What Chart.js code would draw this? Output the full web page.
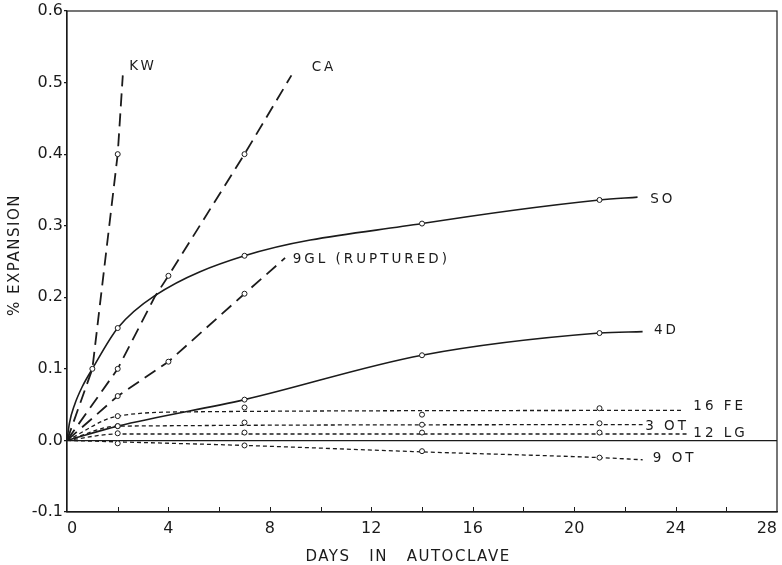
<!DOCTYPE html>
<html>
<head>
<meta charset="utf-8">
<script src="https://cdn.jsdelivr.net/npm/chart.js@4/dist/chart.umd.min.js"></script>
<style>
  html, body { margin: 0; padding: 0; background: #fff; }
  #wrap { width: 782px; height: 565px; }
</style>
</head>
<body>
<div id="wrap"><canvas id="chart" width="782" height="565"></canvas></div>
<script>
// Days the specimens were measured
const testDays = [1, 2, 4, 7, 14, 21];

// Measured expansion (%) per specimen, null = no reading that day
const kwPoints   = [null, 0.40, null, null, null, null];
const caPoints   = [null, 0.10, 0.23, 0.40, null, null];
const gl9Points  = [null, 0.062, 0.11, 0.205, null, null];
const soPoints   = [0.10, 0.157, null, 0.258, 0.303, 0.336];
const d4Points   = [null, 0.02, null, 0.057, 0.119, 0.150];
const fe16Points = [null, 0.034, null, 0.046, 0.036, 0.045];
const ot3Points  = [null, 0.02, null, 0.025, 0.022, 0.024];
const lg12Points = [null, 0.01, null, 0.011, 0.011, 0.011];
const ot9Points  = [null, -0.004, null, -0.007, -0.015, -0.024];

// Drawn curves
const kwCurveDays   = [0, 1, 2, 2.2];
const kwCurve       = [0, 0.10, 0.40, 0.51];
const caCurveDays   = [0, 2, 3.45, 4, 7, 8.85];
const caCurve       = [0, 0.10, 0.20, 0.23, 0.40, 0.51];
const gl9CurveDays  = [0, 2, 4, 7, 8.6];
const gl9Curve      = [0, 0.062, 0.11, 0.205, 0.255];
const soCurveDays   = [0, 0.1, 0.3, 0.6, 1, 2, 3.45, 7, 14, 21, 22.5];
const soCurve       = [0, 0.025, 0.05, 0.075, 0.10, 0.157, 0.202, 0.258, 0.303, 0.336, 0.34];
const d4CurveDays   = [0, 2, 7, 14, 21, 22.7];
const d4Curve       = [0, 0.02, 0.057, 0.119, 0.150, 0.152];
const fe16CurveDays = [0, 2, 5, 24.3];
const fe16Curve     = [0, 0.034, 0.040, 0.042];
const ot3CurveDays  = [0, 2, 22.7];
const ot3Curve      = [0, 0.02, 0.022];
const lg12CurveDays = [0, 2, 24.5];
const lg12Curve     = [0, 0.009, 0.009];
const ot9CurveDays  = [0, 2, 7, 14, 21, 22.7];
const ot9Curve      = [0, -0.002, -0.007, -0.016, -0.024, -0.027];

// Curve names and where they are written (days, % expansion)
const curveNames  = ['KW', 'CA', 'SO', '9GL (RUPTURED)', '4D', '16 FE', '3 OT', '12 LG', '9 OT'];
const nameDays    = [2.45, 9.65, 23.0, 8.9, 23.15, 24.7, 22.8, 24.7, 23.1];
const nameValues  = [0.522, 0.521, 0.336, 0.253, 0.154, 0.047, 0.0195, 0.0098, -0.025];

// Axis ticks
const xTickDays   = [0, 4, 8, 12, 16, 20, 24, 28];
const yTickValues = [-0.1, 0, 0.1, 0.2, 0.3, 0.4, 0.5, 0.6];

const ink = '#1b1b1b';
const longDash = [13, 7];
const shortDash = [4, 3];

function toXY(days, values) {
    return days.map((d, i) => ({ x: d, y: values[i] })).filter(p => p.y !== null);
}

function curve(days, values, dash, width, smooth) {
    return {
        data: toXY(days, values),
        showLine: true,
        borderColor: ink,
        borderWidth: width,
        borderDash: dash,
        pointRadius: 0,
        cubicInterpolationMode: smooth ? 'monotone' : 'default',
        tension: 0,
        order: 2
    };
}

function markers(values) {
    return {
        data: toXY(testDays, values),
        showLine: false,
        pointRadius: 2.5,
        pointBackgroundColor: '#fff',
        pointBorderColor: ink,
        pointBorderWidth: 1,
        order: 1
    };
}

// Box frame, inward day ticks, curve names and axis titles
const decorations = {
    id: 'decorations',
    afterDraw(chart) {
        const { ctx, chartArea: a, scales } = chart;
        ctx.save();
        ctx.strokeStyle = ink;
        ctx.lineWidth = 1.2;
        ctx.strokeRect(a.left, a.top, a.right - a.left, a.bottom - a.top);

        // small ticks every 2 days pointing up from the bottom
        ctx.lineWidth = 1;
        for (let d = 2; d < 28; d += 2) {
            const px = Math.round(scales.x.getPixelForValue(d)) + 0.5;
            ctx.beginPath();
            ctx.moveTo(px, a.bottom);
            ctx.lineTo(px, a.bottom - 5);
            ctx.stroke();
        }

        ctx.fillStyle = ink;
        ctx.font = '13.5px "DejaVu Sans"';
        ctx.letterSpacing = '3px';
        ctx.textAlign = 'left';
        ctx.textBaseline = 'middle';
        curveNames.forEach((name, i) => {
            ctx.fillText(name,
                scales.x.getPixelForValue(nameDays[i]),
                scales.y.getPixelForValue(nameValues[i]));
        });

        ctx.font = '15px "DejaVu Sans"';
        ctx.letterSpacing = '1.5px';
        ctx.textAlign = 'center';
        ctx.fillText('DAYS   IN   AUTOCLAVE', 408, 557);

        ctx.letterSpacing = '1.5px';
        ctx.translate(15, 255);
        ctx.rotate(-Math.PI / 2);
        ctx.fillText('% EXPANSION', 0, 0);
        ctx.restore();
    }
};

new Chart(document.getElementById('chart'), {
    type: 'scatter',
    data: {
        datasets: [
            curve(kwCurveDays, kwCurve, longDash, 1.8, false),
            curve(caCurveDays, caCurve, longDash, 1.8, false),
            curve(gl9CurveDays, gl9Curve, longDash, 1.8, false),
            curve(soCurveDays, soCurve, [], 1.6, true),
            curve(d4CurveDays, d4Curve, [], 1.6, true),
            curve(fe16CurveDays, fe16Curve, shortDash, 1.3, true),
            curve(ot3CurveDays, ot3Curve, shortDash, 1.3, true),
            curve(lg12CurveDays, lg12Curve, shortDash, 1.3, true),
            curve(ot9CurveDays, ot9Curve, shortDash, 1.3, true),
            markers(kwPoints),
            markers(caPoints),
            markers(gl9Points),
            markers(soPoints),
            markers(d4Points),
            markers(fe16Points),
            markers(ot3Points),
            markers(lg12Points),
            markers(ot9Points)
        ]
    },
    options: {
        responsive: false,
        animation: false,
        events: [],
        layout: { autoPadding: false, padding: { top: 11, right: 5, left: 0, bottom: 0 } },
        plugins: { legend: { display: false }, tooltip: { enabled: false } },
        scales: {
            x: {
                type: 'linear',
                min: 0,
                max: 28,
                afterFit(scale) {
                    scale.height = 53;
                    scale.paddingLeft = 0;
                    scale.paddingRight = 0;
                },
                afterBuildTicks(scale) { scale.ticks = xTickDays.map(v => ({ value: v })); },
                ticks: {
                    color: ink,
                    padding: 7,
                    align: 'inner',
                    maxRotation: 0,
                    font: { family: 'DejaVu Sans', size: 16 },
                    callback: v => String(v)
                },
                grid: { display: false, drawTicks: false },
                border: { color: ink, width: 1.2 }
            },
            y: {
                min: -0.1,
                max: 0.6,
                afterFit(scale) {
                    scale.width = 67;
                    scale.paddingTop = 0;
                    scale.paddingBottom = 0;
                },
                afterBuildTicks(scale) { scale.ticks = yTickValues.map(v => ({ value: v })); },
                ticks: {
                    color: ink,
                    padding: 1,
                    font: { family: 'DejaVu Sans', size: 16 },
                    callback: v => v.toFixed(1)
                },
                grid: {
                    drawTicks: true,
                    tickLength: 3,
                    tickColor: ink,
                    color: ctx => (ctx.tick && ctx.tick.value === 0 ? ink : 'rgba(0,0,0,0)'),
                    lineWidth: 1.2
                },
                border: { color: ink, width: 1.2 }
            }
        }
    },
    plugins: [decorations]
});
</script>
</body>
</html>
